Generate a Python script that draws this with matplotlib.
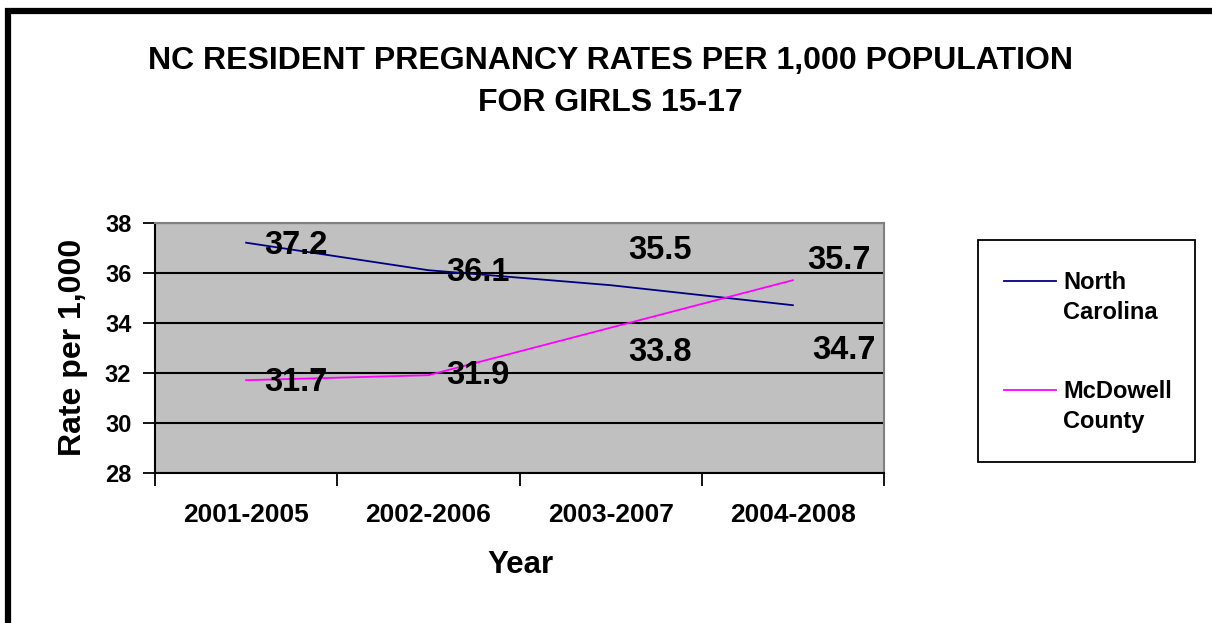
import matplotlib
matplotlib.use("Agg")
import numpy as np
import matplotlib.pyplot as plt
from matplotlib.patches import Rectangle
from matplotlib.ticker import FixedLocator, NullFormatter
from matplotlib.legend_handler import HandlerLine2D

categories = ["2001-2005", "2002-2006", "2003-2007", "2004-2008"]
north_carolina = [37.2, 36.1, 35.5, 34.7]
mcdowell = [31.7, 31.9, 33.8, 35.7]
series_names = ["North\nCarolina", "McDowell\nCounty"]
yticks = [28, 30, 32, 34, 36, 38]

# label offsets in pixels (dx, dy of baseline relative to point)
nc_offsets = [(18, -11), (18, -11), (18, 26), (19, -54)]
mc_offsets = [(18, -11), (18, -9), (18, -33), (14, 11)]


class TopLineHandler(HandlerLine2D):
    """Legend line aligned with the first line of a two-line label."""
    def create_artists(self, legend, orig_handle, xdescent, ydescent, width, height,
                       fontsize, trans):
        artists = super().create_artists(legend, orig_handle, xdescent, ydescent,
                                         width, height, fontsize, trans)
        for a in artists:
            a.set_ydata(np.asarray(a.get_ydata()) + 0.75 * fontsize)
        return artists


W, H = 1212, 623
fig = plt.figure(figsize=(W / 100, H / 100), dpi=100)
plt.rcParams['font.family'] = ['Liberation Sans', 'DejaVu Sans']
fig.patch.set_facecolor("white")

# outer border (top and left visible)
fig.add_artist(Rectangle((8 / W, -0.1), 1.2, (H - 11) / H + 0.1, transform=fig.transFigure,
                         fill=False, edgecolor="black", linewidth=4.5))

left, right, top, bottom = 155, 884, 222.7, 472.7
ax = fig.add_axes([left / W, 1 - bottom / H, (right - left) / W, (bottom - top) / H])
ax.set_facecolor("#C0C0C0")

x = list(range(len(categories)))
l1, = ax.plot(x, north_carolina, color="#000080", linewidth=1.3, label=series_names[0], zorder=3)
l2, = ax.plot(x, mcdowell, color="#FF00FF", linewidth=1.3, label=series_names[1], zorder=3)

for xi, v, (dx, dy) in zip(x, north_carolina, nc_offsets):
    ax.annotate(f"{v:.1f}", (xi, v), xytext=(dx, dy), textcoords="offset pixels",
                ha="left", va="baseline", fontsize=23.5, fontweight="bold", zorder=4)
for xi, v, (dx, dy) in zip(x, mcdowell, mc_offsets):
    ax.annotate(f"{v:.1f}", (xi, v), xytext=(dx, dy), textcoords="offset pixels",
                ha="left", va="baseline", fontsize=23.5, fontweight="bold", zorder=4)

ax.set_xlim(-0.5, len(categories) - 0.5)
ax.set_ylim(28, 38)
ax.set_yticks(yticks)
ax.yaxis.grid(True, color="black", linewidth=1.5)
ax.set_axisbelow(True)

ax.xaxis.set_major_locator(FixedLocator([i - 0.5 for i in range(len(categories) + 1)]))
ax.xaxis.set_major_formatter(NullFormatter())
ax.xaxis.set_minor_locator(FixedLocator(x))
ax.set_xticklabels(categories, minor=True)
ax.tick_params(axis="x", which="major", length=9, width=1.3, direction="out", color="black")
ax.tick_params(axis="x", which="minor", length=0, pad=22, labelsize=19)
ax.tick_params(axis="y", length=9, width=1.3, direction="out", pad=8, labelsize=17)
for lab in ax.get_xticklabels(minor=True) + ax.get_yticklabels():
    lab.set_fontweight("bold")

for s in ["top", "right"]:
    ax.spines[s].set_color("#808080")
    ax.spines[s].set_linewidth(1.5)
for s in ["left", "bottom"]:
    ax.spines[s].set_color("black")
    ax.spines[s].set_linewidth(1.5)

fig.text(610 / W, 1 - 61 / H, "NC RESIDENT PREGNANCY RATES PER 1,000 POPULATION",
         ha="center", va="center", fontsize=23, fontweight="bold")
fig.text(610 / W, 1 - 103 / H, "FOR GIRLS 15-17",
         ha="center", va="center", fontsize=23, fontweight="bold")
fig.text(73 / W, 1 - 347 / H, "Rate per 1,000", rotation=90,
         ha="center", va="center", fontsize=23, fontweight="bold")
fig.text(520 / W, 1 - 565 / H, "Year", ha="center", va="center",
         fontsize=22.5, fontweight="bold")

# legend frame
fig.add_artist(Rectangle((978 / W, 1 - 462 / H), 217 / W, 222 / H, transform=fig.transFigure,
                         fill=False, edgecolor="black", linewidth=1.3))

leg = ax.legend(handles=[l1, l2], loc="upper left",
                bbox_to_anchor=(978 / W, 1 - 467 / H, 217 / W, 222 / H),
                bbox_transform=fig.transFigure, mode="expand",
                prop={"weight": "bold", "size": 17}, frameon=False,
                borderpad=1.1, labelspacing=2.36, handlelength=2.2, handletextpad=0.3,
                borderaxespad=0, handler_map={matplotlib.lines.Line2D: TopLineHandler()})
for t in leg.get_texts():
    t.set_linespacing(1.4)

fig.savefig("out.png", dpi=100, facecolor="white")
